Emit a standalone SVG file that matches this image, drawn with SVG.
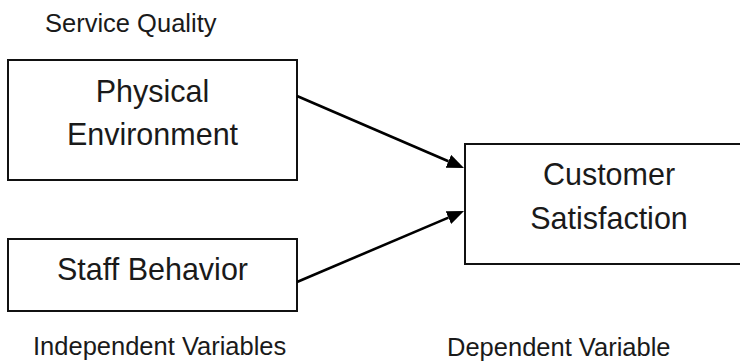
<svg xmlns="http://www.w3.org/2000/svg" width="740" height="362" viewBox="0 0 740 362">
<defs>
<style>
.box{fill:#fff;stroke:#111;stroke-width:2}
.t{font-family:"Liberation Sans",Arial,sans-serif;fill:#1a1a1a}
.big{font-size:30.5px;text-anchor:middle}
.lab{font-size:25.5px}
.conn{stroke:#000;stroke-width:2.6;fill:none}
</style>
<marker id="ah" markerUnits="userSpaceOnUse" markerWidth="18" markerHeight="16" refX="0" refY="7" orient="auto">
<path d="M0,0 L17,7 L0,14 z" fill="#000"/>
</marker>
</defs>
<rect width="740" height="362" fill="#fff"/>
<text class="t lab" x="45" y="32">Service Quality</text>
<g id="physical-environment">
<rect class="box" x="8" y="60" width="289" height="120"/>
<text class="t big" x="152.5" y="102">Physical</text>
<text class="t big" x="152.5" y="145">Environment</text>
</g>
<g id="staff-behavior">
<rect class="box" x="8" y="239" width="289" height="72"/>
<text class="t big" x="152.5" y="280">Staff Behavior</text>
</g>
<g id="customer-satisfaction">
<rect class="box" x="465" y="144" width="290" height="120"/>
<text class="t big" x="609" y="185">Customer</text>
<text class="t big" x="609" y="229">Satisfaction</text>
</g>
<g id="connectors">
<line class="conn" x1="297" y1="96" x2="448.4" y2="161.3" marker-end="url(#ah)"/>
<line class="conn" x1="297" y1="282" x2="448.4" y2="217.6" marker-end="url(#ah)"/>
</g>
<text class="t lab" x="33" y="355">Independent Variables</text>
<text class="t lab" x="447" y="356">Dependent Variable</text>
</svg>
